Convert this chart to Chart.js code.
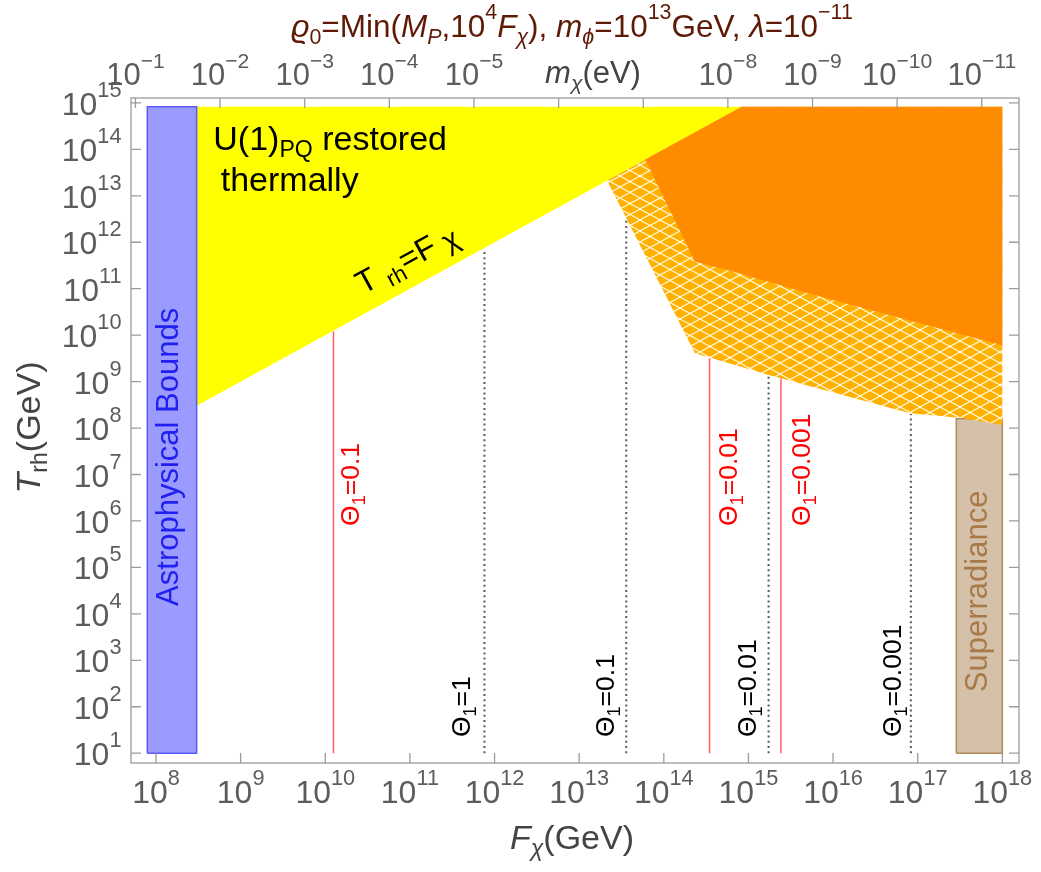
<!DOCTYPE html>
<html><head><meta charset="utf-8">
<script src="https://cdn.jsdelivr.net/npm/chart.js@4.4.1/dist/chart.umd.min.js"></script>
<style>html,body{margin:0;padding:0;background:#fff;}canvas{display:block}</style>
</head><body>
<canvas id="c" width="1041" height="872"></canvas>
<script>
// ---------- data ----------
const F_TICKS = [1e8,1e9,1e10,1e11,1e12,1e13,1e14,1e15,1e16,1e17,1e18];
const T_TICKS = [1e1,1e2,1e3,1e4,1e5,1e6,1e7,1e8,1e9,1e10,1e11,1e12,1e13,1e14,1e15];
const M_TICKS = [1e-1,1e-2,1e-3,1e-4,1e-5,1e-6,1e-7,1e-8,1e-9,1e-10,1e-11];
const M_TICK_SHOWN = [true,true,true,true,true,false,false,true,true,true,true];

const astroF = [7.89e7, 3.02e8, 3.02e8, 7.89e7, 7.89e7];
const astroT = [10, 10, 8.32e14, 8.32e14, 10];
const superF = [2.86e17, 1e18, 1e18, 2.86e17, 2.86e17];
const superT = [10, 10, 1.58e8, 1.58e8, 10];
const yellowF = [3.02e8, 3.02e8, 8.32e14, 3.02e8];
const yellowT = [3.02e8, 8.32e14, 8.32e14, 3.02e8];
const hatchF = [2.14e13, 8.32e14, 1e18, 1e18, 3.16e17, 8.13e16, 1.74e15, 2.34e14, 2.14e13];
const hatchT = [2.14e13, 8.32e14, 8.32e14, 1.17e8, 1.66e8, 2.09e8, 1.38e9, 4.07e9, 2.14e13];
const orangeF = [6.03e13, 8.32e14, 1e18, 1e18, 5.89e15, 5.01e14, 2.34e14, 6.03e13];
const orangeT = [6.03e13, 8.32e14, 8.32e14, 6.03e9, 7.41e10, 2.69e11, 3.80e11, 6.03e13];

const thetaRedF = [1.25e10, 3.47e14, 2.42e15];
const thetaRedTop = [1.2e10, 3.2e9, 1.17e9];
const thetaRedLabel = ['0.1','0.01','0.001'];
const thetaBlackF = [7.6e11, 3.6e13, 1.73e15, 8.3e16];
const thetaBlackTop = [7.1e11, 2.9e12, 1.33e9, 2.0e8];
const thetaBlackLabel = ['1','0.1','0.01','0.001'];
const lineBottomT = 10;

// label anchors (data coordinates)
const redLabelF = [2.5e10, 7.3e14, 5.37e15];
const redLabelT = 7.8e5;
const blackLabelF = [5.15e11, 2.59e13, 1.24e15, 6.4e16];
const blackLabelT = 22.3;

// ---------- helpers ----------
const FONT = '"Liberation Sans", Arial, Helvetica, sans-serif';
function fontOf(s, base) {
  const size = (s.sub || s.sup) ? base * (s.scale || 0.68) : base * (s.scale || 1);
  return (s.it ? 'italic ' : '') + size.toFixed(2) + 'px ' + FONT;
}
function richWidth(ctx, segs, base) {
  let w = 0;
  for (const s of segs) { ctx.font = fontOf(s, base); w += ctx.measureText(s.t).width; }
  return w;
}
function drawRich(ctx, segs, x, y, base, color, align) {
  const w = richWidth(ctx, segs, base);
  let cx = align === 'center' ? x - w / 2 : align === 'right' ? x - w : x;
  ctx.textBaseline = 'alphabetic';
  ctx.textAlign = 'left';
  for (const s of segs) {
    ctx.font = fontOf(s, base);
    const dy = s.sup ? -base * 0.56 : s.sub ? base * (s.drop || 0.22) : 0;
    ctx.fillStyle = s.color || color;
    ctx.fillText(s.t, cx, y + dy);
    cx += ctx.measureText(s.t).width;
  }
}
function drawRichRot(ctx, segs, x, y, base, color, align, ang) {
  ctx.save(); ctx.translate(x, y); ctx.rotate(ang);
  drawRich(ctx, segs, 0, 0, base, color, align);
  ctx.restore();
}
function expStr(v) { return String(Math.round(Math.log10(v))).replace('-', '\u2212'); }
function pts(F, T) { return F.map((f, i) => ({x: f, y: T[i]})); }

function makeHatch() {
  const w = 20, h = 11;
  const c = document.createElement('canvas'); c.width = w; c.height = h;
  const g = c.getContext('2d');
  g.fillStyle = '#ffb000'; g.fillRect(0, 0, w, h);
  g.strokeStyle = 'rgba(255,255,235,0.9)'; g.lineWidth = 1.2;
  for (const dx of [-w, 0, w]) for (const dy of [-h, 0, h]) {
    g.beginPath();
    g.moveTo(dx, dy); g.lineTo(dx + w, dy + h);
    g.moveTo(dx, dy + h); g.lineTo(dx + w, dy);
    g.stroke();
  }
  return g.createPattern(c, 'repeat');
}

// ---------- datasets ----------
const datasets = [];
thetaRedF.forEach((f, i) => datasets.push({
  data: [{x: f, y: lineBottomT}, {x: f, y: thetaRedTop[i]}],
  borderColor: 'rgb(255,95,95)', borderWidth: 1.5, fill: false, order: 0
}));
thetaBlackF.forEach((f, i) => datasets.push({
  data: [{x: f, y: lineBottomT}, {x: f, y: thetaBlackTop[i]}],
  borderColor: '#5a5a5a', borderWidth: 2, borderDash: [2, 3.2], fill: false, order: 0
}));
datasets.push({data: pts(astroF, astroT), fill: 'shape', backgroundColor: '#9a9aff', borderColor: '#5a5aff', borderWidth: 1.5, order: 1});
datasets.push({data: pts(orangeF, orangeT), fill: 'shape', backgroundColor: '#ff8c00', borderColor: 'rgba(0,0,0,0)', borderWidth: 0, order: 2});
datasets.push({data: pts(hatchF, hatchT), fill: 'shape', backgroundColor: makeHatch(), borderColor: 'rgba(0,0,0,0)', borderWidth: 0, order: 3});
datasets.push({data: pts(yellowF, yellowT), fill: 'shape', backgroundColor: '#ffff00', borderColor: 'rgba(0,0,0,0)', borderWidth: 0, order: 4});
datasets.push({data: pts(superF, superT), fill: 'shape', backgroundColor: '#d5c1aa', borderColor: '#b38a5a', borderWidth: 1.5, order: 5});

// ---------- decorations ----------
const decor = {
  id: 'decor',
  afterDatasetsDraw(chart) {
    const {ctx, chartArea: a} = chart;
    const {x, y, x2} = chart.scales;
    const X = v => x.getPixelForValue(v), Y = v => y.getPixelForValue(v);
    ctx.save();
    const up = -Math.PI / 2;

    // region labels
    drawRich(ctx, [{t: 'U(1)'}, {t: 'PQ', sub: 1, drop: 0.2}, {t: ' restored'}], X(4.75e8), Y(9.77e13), 34, '#000', 'left');
    drawRich(ctx, [{t: 'thermally'}], X(5.82e8), Y(1.24e13), 34, '#000', 'left');
    const ang = Math.atan2(Y(1e14) - Y(1e9), X(1e14) - X(1e9));
    drawRichRot(ctx, [{t: 'T'}, {t: ' '}, {t: 'rh', sub: 1, scale: 0.7}, {t: '=F'}, {t: ' '}, {t: '\u03c7', sub: 1, scale: 0.9, drop: 0.1}], X(2.8e10), Y(7.4e10), 32, '#000', 'left', ang);
    drawRichRot(ctx, [{t: 'Astrophysical Bounds'}], X(1.82e8), Y(2.4e7), 31, '#2020f0', 'center', up);
    drawRichRot(ctx, [{t: 'Superradiance'}], X(6.65e17), Y(3.04e4), 31, '#a87a48', 'center', up);

    thetaRedLabel.forEach((l, i) => drawRichRot(ctx, [{t: '\u0398'}, {t: '1', sub: 1}, {t: '=' + l}], X(redLabelF[i]), Y(redLabelT), 26.5, '#ff0000', 'left', up));
    thetaBlackLabel.forEach((l, i) => drawRichRot(ctx, [{t: '\u0398'}, {t: '1', sub: 1}, {t: '=' + l}], X(blackLabelF[i]), Y(blackLabelT), 26.5, '#000', 'left', up));

    // frame
    ctx.strokeStyle = '#9c9c9c'; ctx.lineWidth = 1.3;
    ctx.strokeRect(a.left, a.top, a.right - a.left, a.bottom - a.top);
    ctx.beginPath();
    const TL = 10;
    F_TICKS.forEach(v => { const p = X(v); ctx.moveTo(p, a.bottom); ctx.lineTo(p, a.bottom - TL); });
    M_TICKS.forEach(v => { const p = x2.getPixelForValue(v); ctx.moveTo(p, a.top); ctx.lineTo(p, a.top + TL); });
    T_TICKS.forEach(v => { const p = Y(v); ctx.moveTo(a.left, p); ctx.lineTo(a.left + TL, p); ctx.moveTo(a.right, p); ctx.lineTo(a.right - TL, p); });
    ctx.stroke();

    // tick labels
    const TC = '#5c5c5c';
    F_TICKS.forEach(v => drawRich(ctx, [{t: '10'}, {t: expStr(v), sup: 1}], X(v), 803, 32, TC, 'center'));
    T_TICKS.forEach(v => drawRich(ctx, [{t: '10'}, {t: expStr(v), sup: 1}], 121.5, Y(v) + 12, 32, TC, 'right'));
    M_TICKS.forEach((v, i) => { if (M_TICK_SHOWN[i]) drawRich(ctx, [{t: '10'}, {t: expStr(v), sup: 1}], x2.getPixelForValue(v), 85, 31, TC, 'center'); });

    // axis titles
    const AC = '#444';
    drawRich(ctx, [{t: 'm', it: 1}, {t: '\u03c7', sub: 1, it: 1}, {t: '(eV)'}], 593, 83, 31, AC, 'center');
    drawRich(ctx, [{t: 'F', it: 1}, {t: '\u03c7', sub: 1, it: 1}, {t: '(GeV)'}], 572, 849, 34, AC, 'center');
    drawRichRot(ctx, [{t: 'T', it: 1}, {t: 'rh', sub: 1}, {t: '(GeV)'}], 39.5, 427.5, 34, AC, 'center', up);
    const TT = '#5e1a05';
    drawRich(ctx, [
      {t: '\u03f1', it: 1}, {t: '0', sub: 1}, {t: '=Min('}, {t: 'M', it: 1}, {t: 'P', sub: 1, it: 1},
      {t: ',10'}, {t: '4', sup: 1}, {t: 'F', it: 1}, {t: '\u03c7', sub: 1, it: 1}, {t: '), '},
      {t: 'm', it: 1}, {t: '\u03d5', sub: 1, it: 1}, {t: '=10'}, {t: '13', sup: 1}, {t: 'GeV, '},
      {t: '\u03bb', it: 1}, {t: '=10'}, {t: '\u221211', sup: 1}
    ], 572, 37, 31.5, TT, 'center');
    ctx.restore();
  }
};

const logFmin = 7.7045, logFmax = 18.197, mShift = 6.757;
new Chart(document.getElementById('c'), {
  type: 'line',
  data: {datasets},
  options: {
    responsive: false, animation: false, events: [],
    layout: {padding: {left: 131, top: 98, right: 22, bottom: 109}},
    elements: {point: {radius: 0, hoverRadius: 0}, line: {tension: 0}},
    scales: {
      x: {type: 'logarithmic', min: Math.pow(10, logFmin), max: Math.pow(10, logFmax), display: false, bounds: 'data'},
      x2: {type: 'logarithmic', position: 'top', reverse: true, min: Math.pow(10, mShift - logFmax), max: Math.pow(10, mShift - logFmin), display: false, bounds: 'data'},
      y: {type: 'logarithmic', min: Math.pow(10, 0.789), max: Math.pow(10, 15.106), display: false, bounds: 'data'}
    },
    plugins: {legend: {display: false}, tooltip: {enabled: false}}
  },
  plugins: [decor]
});
</script>
</body></html>
